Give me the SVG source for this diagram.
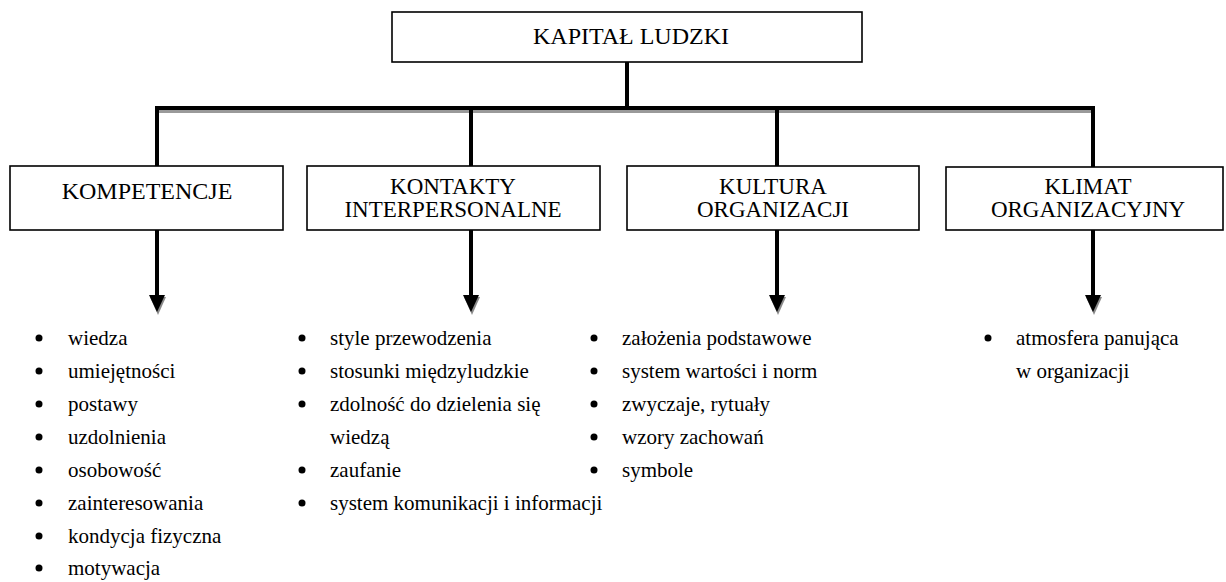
<svg xmlns="http://www.w3.org/2000/svg" width="1226" height="582" viewBox="0 0 1226 582">
<defs>
<style>
.box{fill:#fff;stroke:#000;stroke-width:1.6}
.t{font-family:"Liberation Serif","Times New Roman",serif;fill:#000}
.h{font-size:23px;text-anchor:middle}
.li{font-size:21px}
.bus{stroke:#000;stroke-width:4;fill:none}
.sh{stroke:#9a9a9a;stroke-width:3;fill:none}
.ah{fill:#000}
.ahs{fill:#8a8a8a}
.b{fill:#000}
</style>
</defs>
<g id="connectors">
<line class="sh" x1="157" y1="111.5" x2="1095" y2="111.5"/>
<line class="bus" x1="627" y1="62" x2="627" y2="110"/>
<line class="bus" x1="155" y1="108" x2="1095" y2="108"/>
<line class="bus" x1="157" y1="106" x2="157" y2="166"/>
<line class="bus" x1="471" y1="106" x2="471" y2="166"/>
<line class="bus" x1="777" y1="106" x2="777" y2="166"/>
<line class="bus" x1="1093" y1="106" x2="1093" y2="167"/>
<line class="bus" x1="157" y1="230" x2="157" y2="297"/>
<polygon class="ahs" points="150,297 166,297 158,315"/>
<polygon class="ah" points="149,295 165,295 157,312"/>
<line class="bus" x1="471" y1="230" x2="471" y2="297"/>
<polygon class="ahs" points="464,297 480,297 472,315"/>
<polygon class="ah" points="463,295 479,295 471,312"/>
<line class="bus" x1="777" y1="230" x2="777" y2="297"/>
<polygon class="ahs" points="770,297 786,297 778,315"/>
<polygon class="ah" points="769,295 785,295 777,312"/>
<line class="bus" x1="1093" y1="230" x2="1093" y2="297"/>
<polygon class="ahs" points="1086,297 1102,297 1094,315"/>
<polygon class="ah" points="1085,295 1101,295 1093,312"/>
</g>
<g id="kapital">
<rect class="box" x="392" y="12" width="470" height="50"/>
<text class="t h" x="631" y="44" style="font-size:24px">KAPITAŁ LUDZKI</text>
</g>
<g id="kompetencje">
<rect class="box" x="10" y="166" width="273" height="64"/>
<text class="t h" x="147" y="199" style="font-size:24px">KOMPETENCJE</text>
</g>
<g id="kontakty">
<rect class="box" x="307" y="166" width="293" height="64"/>
<text class="t h" x="453" y="194">KONTAKTY</text>
<text class="t h" x="453" y="217">INTERPERSONALNE</text>
</g>
<g id="kultura">
<rect class="box" x="627" y="166" width="292" height="64"/>
<text class="t h" x="773" y="194">KULTURA</text>
<text class="t h" x="773" y="217">ORGANIZACJI</text>
</g>
<g id="klimat">
<rect class="box" x="946" y="167" width="277" height="63"/>
<text class="t h" x="1088" y="194">KLIMAT</text>
<text class="t h" x="1088" y="217">ORGANIZACYJNY</text>
</g>
<g id="list-kompetencje">
<circle class="b" cx="39" cy="338" r="3.5"/><text class="t li" x="68" y="345">wiedza</text>
<circle class="b" cx="39" cy="371" r="3.5"/><text class="t li" x="68" y="378">umiejętności</text>
<circle class="b" cx="39" cy="404" r="3.5"/><text class="t li" x="68" y="411">postawy</text>
<circle class="b" cx="39" cy="437" r="3.5"/><text class="t li" x="68" y="444">uzdolnienia</text>
<circle class="b" cx="39" cy="470" r="3.5"/><text class="t li" x="68" y="477">osobowość</text>
<circle class="b" cx="39" cy="503" r="3.5"/><text class="t li" x="68" y="510">zainteresowania</text>
<circle class="b" cx="39" cy="536" r="3.5"/><text class="t li" x="68" y="543">kondycja fizyczna</text>
<circle class="b" cx="39" cy="568" r="3.5"/><text class="t li" x="68" y="575">motywacja</text>
</g>
<g id="list-kontakty">
<circle class="b" cx="302" cy="338" r="3.5"/><text class="t li" x="330" y="345">style przewodzenia</text>
<circle class="b" cx="302" cy="371" r="3.5"/><text class="t li" x="330" y="378">stosunki międzyludzkie</text>
<circle class="b" cx="302" cy="404" r="3.5"/><text class="t li" x="330" y="411">zdolność do dzielenia się</text>
<text class="t li" x="330" y="444">wiedzą</text>
<circle class="b" cx="302" cy="470" r="3.5"/><text class="t li" x="330" y="477">zaufanie</text>
<circle class="b" cx="302" cy="503" r="3.5"/><text class="t li" x="330" y="510">system komunikacji i informacji</text>
</g>
<g id="list-kultura">
<circle class="b" cx="594" cy="338" r="3.5"/><text class="t li" x="622" y="345">założenia podstawowe</text>
<circle class="b" cx="594" cy="371" r="3.5"/><text class="t li" x="622" y="378">system wartości i norm</text>
<circle class="b" cx="594" cy="404" r="3.5"/><text class="t li" x="622" y="411">zwyczaje, rytuały</text>
<circle class="b" cx="594" cy="437" r="3.5"/><text class="t li" x="622" y="444">wzory zachowań</text>
<circle class="b" cx="594" cy="470" r="3.5"/><text class="t li" x="622" y="477">symbole</text>
</g>
<g id="list-klimat">
<circle class="b" cx="988" cy="338" r="3.5"/><text class="t li" x="1016" y="345">atmosfera panująca</text>
<text class="t li" x="1016" y="378">w organizacji</text>
</g>
</svg>
